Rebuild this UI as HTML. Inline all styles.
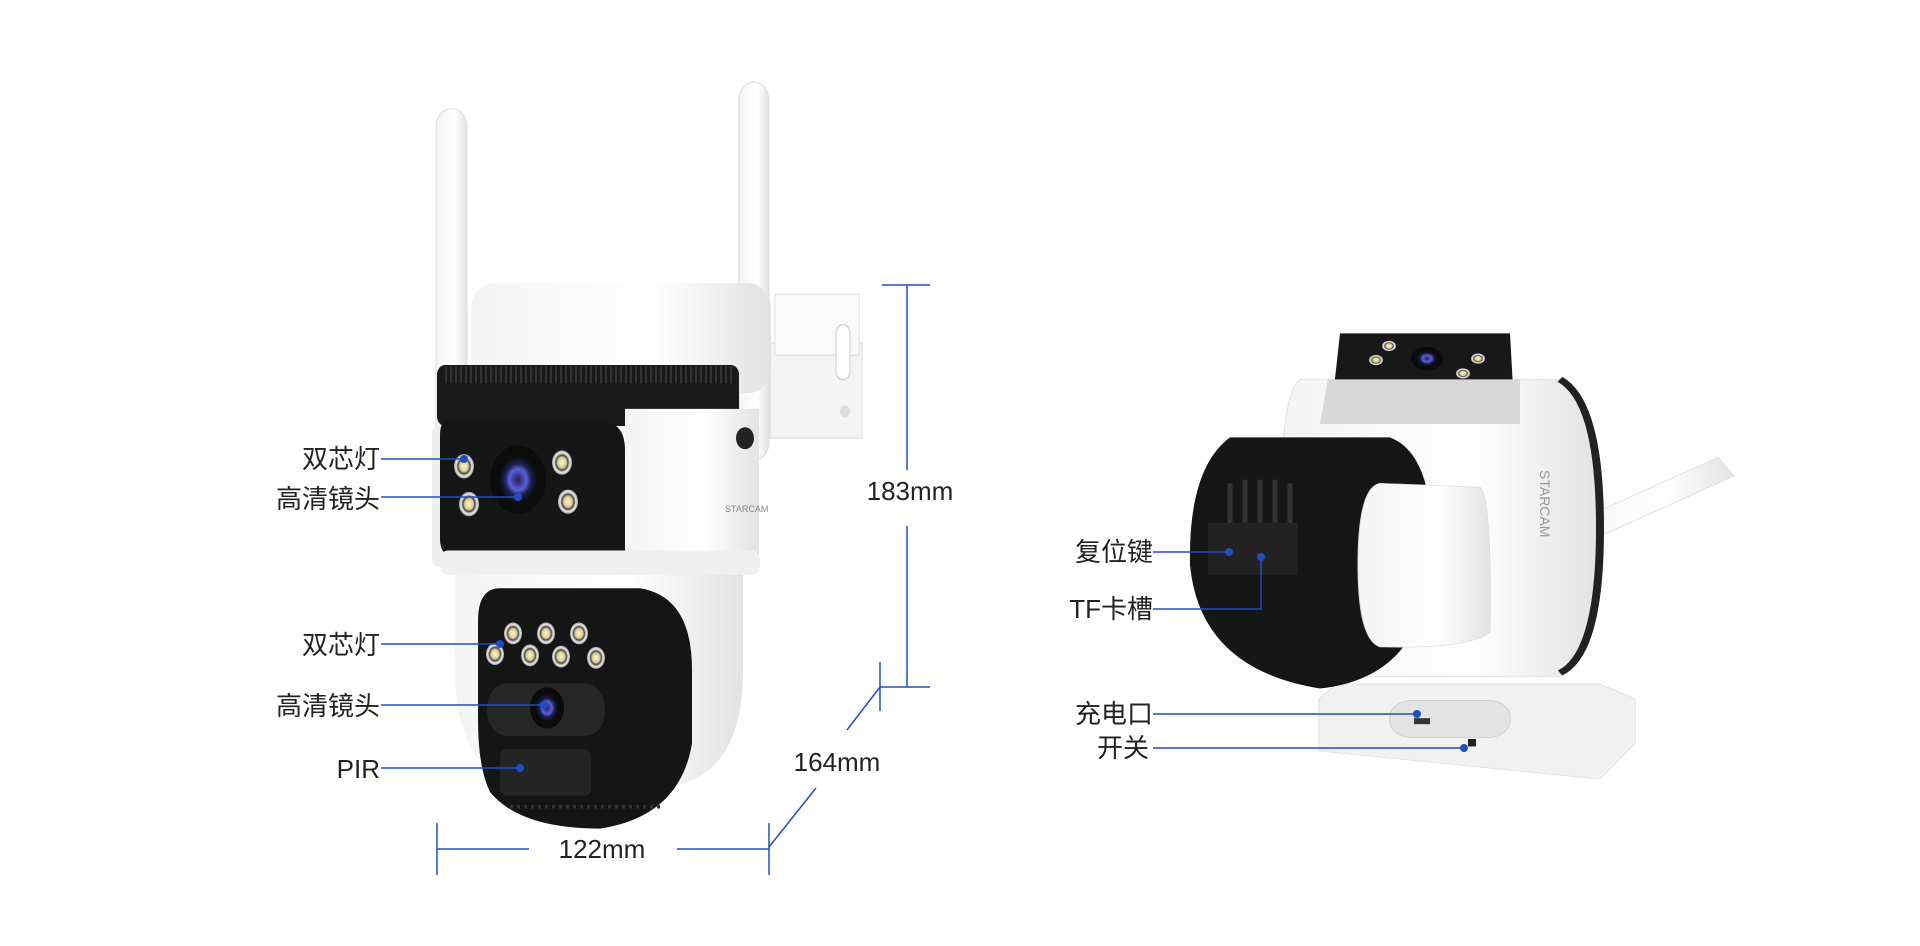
<!DOCTYPE html>
<html><head><meta charset="utf-8"><style>
html,body{margin:0;padding:0;background:#fff;}
svg{display:block;}
text{font-family:"Liberation Sans","Noto Sans CJK SC",sans-serif;fill:#222;}
</style></head><body>
<svg width="1920" height="946" viewBox="0 0 1920 946" xmlns="http://www.w3.org/2000/svg">
<defs>
<linearGradient id="wg" x1="0" x2="1"><stop offset="0" stop-color="#f4f4f4"/><stop offset="0.6" stop-color="#fff"/><stop offset="1" stop-color="#e2e2e2"/></linearGradient>
<radialGradient id="lens"><stop offset="0" stop-color="#2a1a55"/><stop offset="0.45" stop-color="#5a5fd8"/><stop offset="0.7" stop-color="#1b1f4a"/><stop offset="1" stop-color="#0c0c12"/></radialGradient>
<radialGradient id="led"><stop offset="0" stop-color="#fff6d0"/><stop offset="0.45" stop-color="#d9c98c"/><stop offset="0.6" stop-color="#444"/><stop offset="0.8" stop-color="#eee"/><stop offset="1" stop-color="#999"/></radialGradient>
</defs>

<!-- LEFT CAMERA -->
<g transform="matrix(1,0,0,1.22,0,-13.2)">
<rect x="436" y="100" width="31" height="300" rx="15" fill="url(#wg)" stroke="#ddd"/>
<rect x="739" y="78" width="30" height="310" rx="15" fill="url(#wg)" stroke="#ddd"/>
<path d="M770 292 L862 292 L862 370 L770 370 Z" fill="#f3f3f3" stroke="#ddd"/>
<rect x="775" y="252" width="84" height="50" fill="#fafafa" stroke="#e0e0e0"/>
<rect x="836" y="277" width="14" height="45" rx="7" fill="#fff" stroke="#ccc"/>
<circle cx="845" cy="348" r="5" fill="#ddd"/>
<rect x="471" y="243" width="300" height="90" rx="22" fill="url(#wg)"/>
<rect x="437" y="310" width="302" height="50" rx="8" fill="#1a1a1a"/>
<line x1="445" y1="318" x2="735" y2="318" stroke="#333" stroke-dasharray="2 3" stroke-width="14"/>
<path d="M625 346 L759 346 L759 475 L625 475 Z" fill="url(#wg)"/>
<rect x="432" y="360" width="14" height="115" rx="6" fill="#eee"/>
<circle cx="745" cy="370" r="9" fill="#222"/>
<path d="M447 356 L600 356 Q625 356 625 380 L625 466 L452 466 Q440 466 440 452 L440 368 Q440 356 447 356 Z" fill="#161616"/>
<circle cx="518" cy="404" r="28" fill="#0c0c0c"/>
<circle cx="518" cy="404" r="19" fill="url(#lens)"/>
<circle cx="464" cy="393" r="10" fill="url(#led)"/>
<circle cx="562" cy="390" r="10" fill="url(#led)"/>
<circle cx="469" cy="424" r="10" fill="url(#led)"/>
<circle cx="568" cy="422" r="10" fill="url(#led)"/>
<path d="M455 480 L743 480 L743 560 Q743 640 680 654 L520 654 Q455 640 455 560 Z" fill="url(#wg)"/>
<rect x="440" y="462" width="320" height="20" rx="8" fill="#f0f0f0"/>
<path d="M500 493 L640 493 Q692 500 692 560 L692 620 Q680 680 600 690 Q520 690 490 660 Q478 640 478 600 L478 520 Q478 493 500 493 Z" fill="#151515"/>
<line x1="510" y1="672" x2="660" y2="672" stroke="#333" stroke-width="3" stroke-dasharray="3 4"/>
<circle cx="513" cy="530" r="9" fill="url(#led)"/>
<circle cx="546" cy="530" r="9" fill="url(#led)"/>
<circle cx="579" cy="530" r="9" fill="url(#led)"/>
<circle cx="495" cy="547" r="9" fill="url(#led)"/>
<circle cx="530" cy="548" r="9" fill="url(#led)"/>
<circle cx="561" cy="549" r="9" fill="url(#led)"/>
<circle cx="596" cy="550" r="9" fill="url(#led)"/>
<rect x="487" y="571" width="118" height="43" rx="20" fill="#262626"/>
<circle cx="547" cy="591" r="17" fill="#0b0b0b"/>
<circle cx="547" cy="591" r="11" fill="url(#lens)"/>
<rect x="500" y="625" width="91" height="38" rx="6" fill="#242424"/>
</g>
<text x="725" y="512" font-size="9" style="fill:#888">STARCAM</text>

<!-- left labels -->
<g stroke="#1f4fbf" stroke-width="1.5" fill="none">
<line x1="381" y1="459" x2="464" y2="459"/>
<line x1="381" y1="497" x2="518" y2="497"/>
<line x1="381" y1="644" x2="500" y2="644"/>
<line x1="381" y1="705" x2="544" y2="705"/>
<line x1="381" y1="768" x2="520" y2="768"/>
</g>
<g fill="#1f4fbf"><circle cx="464" cy="459" r="4"/><circle cx="518" cy="497" r="4"/><circle cx="500" cy="644" r="4"/><circle cx="544" cy="705" r="4"/><circle cx="520" cy="768" r="4"/></g>
<g font-size="26" text-anchor="end">
<text x="380" y="468">双芯灯</text>
<text x="380" y="508">高清镜头</text>
<text x="380" y="654">双芯灯</text>
<text x="380" y="715">高清镜头</text>
<text x="380" y="778">PIR</text>
</g>

<!-- dimensions -->
<g stroke="#1f4fbf" stroke-width="1.5" fill="none">
<line x1="882" y1="285" x2="930" y2="285"/>
<line x1="907" y1="285" x2="907" y2="470"/>
<line x1="907" y1="526" x2="907" y2="687"/>
<line x1="880" y1="687" x2="930" y2="687"/>
<line x1="880" y1="662" x2="880" y2="711"/>
<line x1="880" y1="687" x2="847" y2="730"/>
<line x1="816" y1="788" x2="769" y2="847"/>
<line x1="437" y1="849" x2="529" y2="849"/>
<line x1="677" y1="849" x2="769" y2="849"/>
<line x1="437" y1="823" x2="437" y2="875"/>
<line x1="769" y1="823" x2="769" y2="875"/>
</g>
<g font-size="26" text-anchor="middle">
<text x="910" y="500">183mm</text>
<text x="837" y="771">164mm</text>
<text x="602" y="858">122mm</text>
</g>

<!-- RIGHT CAMERA -->
<g transform="matrix(1,0,0,0.743,0,82.2)">
<path d="M1566 597 L1718 505 L1734 530 L1582 622 Z" fill="url(#wg)" stroke="#ddd"/>
<path d="M1336 810 L1600 810 L1635 830 L1635 890 L1600 938 L1319 900 L1319 830 Z" fill="#f1f1f1" stroke="#ddd"/>
<rect x="1390" y="832" width="120" height="50" rx="22" fill="#e4e4e4" stroke="#ccc"/>
<rect x="1414" y="856" width="16" height="8" fill="#333"/>
<rect x="1468" y="884" width="8" height="10" fill="#222"/>
<path d="M1300 400 Q1280 420 1280 600 Q1280 790 1340 800 L1560 800 Q1600 780 1600 600 Q1600 420 1560 400 Z" fill="url(#wg)" stroke="#ddd"/>
<path d="M1560 400 Q1600 430 1600 600 Q1600 770 1560 795" stroke="#222" stroke-width="8" fill="none"/>
<path d="M1340 338 L1510 338 L1515 460 L1330 460 Z" fill="#181818"/>
<path d="M1328 400 L1520 400 L1520 460 L1320 460 Z" fill="#d8d8d8"/>
<circle cx="1427" cy="372" r="16" fill="#0b0b0b"/><circle cx="1427" cy="372" r="10" fill="url(#lens)"/>
<circle cx="1389" cy="355" r="7" fill="url(#led)"/><circle cx="1376" cy="374" r="7" fill="url(#led)"/>
<circle cx="1478" cy="372" r="7" fill="url(#led)"/><circle cx="1463" cy="392" r="7" fill="url(#led)"/>
<path d="M1230 478 L1390 478 Q1432 500 1432 620 Q1432 800 1320 816 Q1200 790 1190 650 Q1188 520 1230 478 Z" fill="#161616"/>
<g stroke="#333" stroke-width="5"><line x1="1230" y1="540" x2="1230" y2="600"/><line x1="1245" y1="535" x2="1245" y2="605"/><line x1="1260" y1="535" x2="1260" y2="605"/><line x1="1275" y1="535" x2="1275" y2="605"/><line x1="1290" y1="540" x2="1290" y2="600"/></g>
<rect x="1208" y="593" width="90" height="70" fill="#222"/>
<path d="M1380 540 L1480 545 Q1492 560 1490 740 Q1470 763 1380 760 Q1358 750 1358 650 Q1358 545 1380 540 Z" fill="url(#wg)" stroke="#ddd"/>
</g>
<text x="1540" y="470" font-size="14" transform="rotate(90 1540 470)" style="fill:#999">STARCAM</text>

<!-- right labels -->
<g stroke="#1f4fbf" stroke-width="1.5" fill="none">
<line x1="1153" y1="552" x2="1229" y2="552"/>
<polyline points="1153,609 1261,609 1261,557"/>
<line x1="1153" y1="714" x2="1417" y2="714"/>
<line x1="1153" y1="748" x2="1464" y2="748"/>
</g>
<g fill="#1f4fbf"><circle cx="1229" cy="552" r="4"/><circle cx="1261" cy="557" r="4"/><circle cx="1417" cy="714" r="4"/><circle cx="1464" cy="748" r="4"/></g>
<g font-size="26" text-anchor="end">
<text x="1153" y="561">复位键</text>
<text x="1153" y="618">TF卡槽</text>
<text x="1153" y="723">充电口</text>
<text x="1149" y="757">开关</text>
</g>
</svg>
</body></html>
